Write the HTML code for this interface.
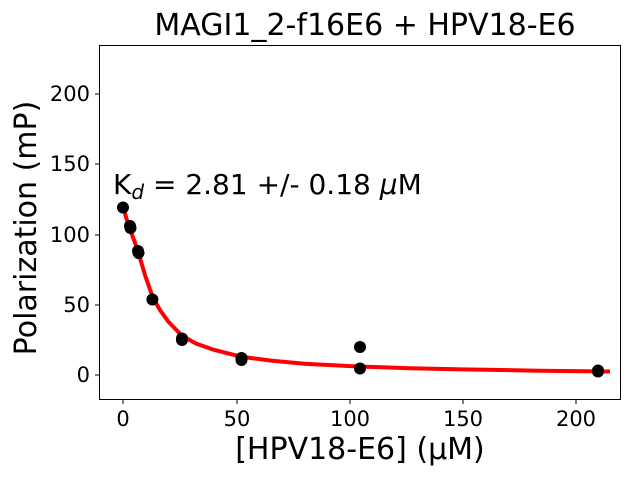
<!DOCTYPE html>
<html><head><style>body{margin:0;background:#fff}svg{display:block}text{font-family:"DejaVu Sans","Liberation Sans",sans-serif}</style></head><body>
<svg width="640" height="480" xmlns="http://www.w3.org/2000/svg">
<rect width="640" height="480" fill="#fff"/>
<polyline fill="none" stroke="#ff0000" stroke-width="4" points="123,206.3 126,217 129.8,228.8 134,240 138,251.3 145,275 152.4,296.3 160,310 168.3,321.6 181.9,335.6 196,343.5 213.6,349.7 240.8,356.7 270,360.5 304.2,363.8 360.8,366.6 410,368.2 462.8,369.4 540,370.7 610,371.5"/>
<g fill="#000">
<circle cx="123" cy="207.5" r="6"/><circle cx="130" cy="226" r="6"/><circle cx="130.5" cy="228" r="6"/>
<circle cx="138" cy="251" r="6"/><circle cx="138.5" cy="253" r="6"/><circle cx="152.4" cy="299.5" r="6"/>
<circle cx="182" cy="338.5" r="6"/><circle cx="182" cy="340" r="6"/><circle cx="241.5" cy="358" r="6"/><circle cx="241.5" cy="360" r="6"/>
<circle cx="360" cy="347" r="6"/><circle cx="360" cy="368.5" r="6"/><circle cx="598" cy="370.5" r="6"/><circle cx="598" cy="371.5" r="6"/>
</g>
<rect x="99.5" y="45.5" width="521" height="354" fill="none" stroke="#000" stroke-width="1"/>
<g stroke="#000" stroke-width="1">
<line x1="123" y1="400" x2="123" y2="404"/><line x1="237" y1="400" x2="237" y2="404"/><line x1="350" y1="400" x2="350" y2="404"/><line x1="463" y1="400" x2="463" y2="404"/><line x1="576" y1="400" x2="576" y2="404"/>
<line x1="95" y1="375" x2="99" y2="375"/><line x1="95" y1="305" x2="99" y2="305"/><line x1="95" y1="235" x2="99" y2="235"/><line x1="95" y1="164" x2="99" y2="164"/><line x1="95" y1="94" x2="99" y2="94"/>
</g>
<g font-size="21" text-anchor="middle">
<text x="123" y="426">0</text><text x="237" y="426">50</text><text x="350" y="426">100</text><text x="463" y="426">150</text><text x="576" y="426">200</text>
</g>
<g font-size="21" text-anchor="end">
<text x="90" y="382">0</text><text x="90" y="312">50</text><text x="90" y="242">100</text><text x="90" y="171">150</text><text x="90" y="101">200</text>
</g>
<text x="360" y="459" font-size="30" text-anchor="middle">[HPV18-E6] (μM)</text>
<text transform="translate(36,228) rotate(-90)" font-size="30" text-anchor="middle">Polarization (mP)</text>
<text x="365" y="35" font-size="30" text-anchor="middle">MAGI1_2-f16E6 + HPV18-E6</text>
<text x="113" y="194" font-size="28">K<tspan font-size="20" font-style="italic" dy="5">d</tspan><tspan dy="-5"> = 2.81 +/- 0.18 </tspan><tspan font-style="italic">μ</tspan>M</text>
</svg>
</body></html>
